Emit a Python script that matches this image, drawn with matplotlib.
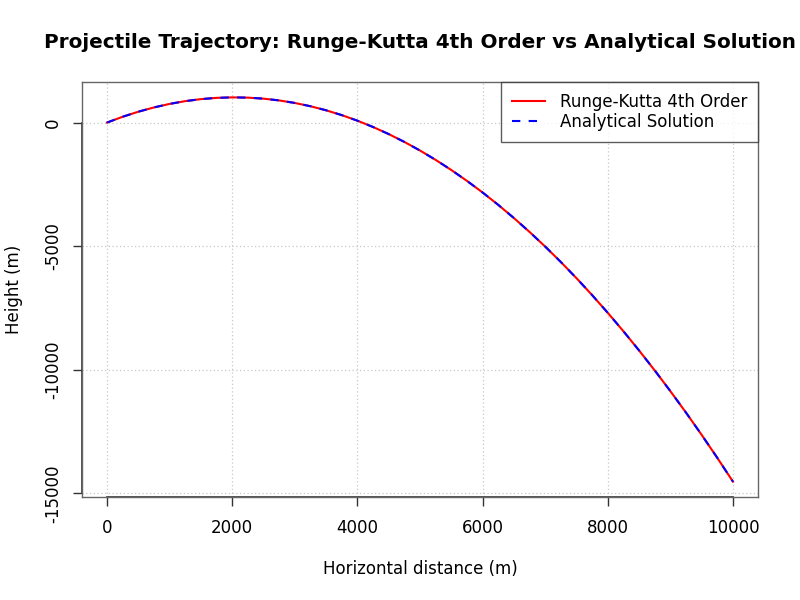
import matplotlib
matplotlib.use("Agg")
import matplotlib.pyplot as plt
from matplotlib.lines import Line2D

# values (metres)
distance = [0, 250, 500, 750, 1000, 1250, 1500, 1750, 2000, 2250, 2500,
            2750, 3000, 3250, 3500, 3750, 4000, 4250, 4500, 4750, 5000,
            5250, 5500, 5750, 6000, 6250, 6500, 6750, 7000, 7250, 7500,
            7750, 8000, 8250, 8500, 8750, 9000, 9250, 9500, 9750, 10000]
height_rk4 = [0, 235, 439, 612, 755, 867, 948, 999, 1019, 1008, 967,
              895, 793, 660, 496, 301, 76, -180, -466, -783, -1131,
              -1510, -1919, -2359, -2829, -3330, -3862, -4424, -5017, -5641, -6295,
              -6980, -7696, -8442, -9219, -10027, -10865, -11734, -12634, -13564, -14525]
height_exact = list(height_rk4)

xticks = [0, 2000, 4000, 6000, 8000, 10000]
yticks = [0, -5000, -10000, -15000]

fig = plt.figure(figsize=(8, 6), dpi=100)
ax = fig.add_axes([82 / 800, 103 / 600, 676 / 800, 415 / 600])

ax.plot(distance, height_rk4, color="red", lw=1.5, label="Runge-Kutta 4th Order")
ax.plot(distance, height_exact, color="blue", lw=1.5, dashes=(4, 4),
        label="Analytical Solution")

# R style 4% padding around the data
xr = max(distance) - min(distance)
ymin = min(height_rk4 + height_exact)
ymax = max(height_rk4 + height_exact)
yr = ymax - ymin
ax.set_xlim(min(distance) - 0.04 * xr, max(distance) + 0.04 * xr)
ax.set_ylim(ymin - 0.04 * yr, ymax + 0.04 * yr)

ax.set_xticks(xticks)
ax.set_yticks(yticks)
ax.set_xticklabels([str(v) for v in xticks])
ax.set_yticklabels([str(v) for v in yticks], rotation=90, va="center")
ax.tick_params(axis="both", direction="out", length=6.5, width=1,
               labelsize=12, color="#333333")
ax.tick_params(axis="x", pad=9)
ax.tick_params(axis="y", pad=8)

ax.grid(True, color="#c8c8c8", linestyle=(0, (1, 2)), lw=0.9)
for s in ax.spines.values():
    s.set_color("#666666")
    s.set_linewidth(1)

# axis lines spanning the ticks only, like base R
ax.plot([xticks[0], xticks[-1]], [ax.get_ylim()[0]] * 2, color="#333333",
        lw=1.2, clip_on=False)
ax.plot([ax.get_xlim()[0]] * 2, [yticks[-1], yticks[0]], color="#333333",
        lw=1.2, clip_on=False)

ax.set_xlabel("Horizontal distance (m)", fontsize=12, labelpad=17)
ax.set_ylabel("Height (m)", fontsize=12, labelpad=15)

fig.text(420 / 800, 1 - 42 / 600,
         "Projectile Trajectory: Runge-Kutta 4th Order vs Analytical Solution",
         ha="center", va="center", fontsize=14.4, fontweight="bold")

handles = [Line2D([], [], color="red", lw=1.5),
           Line2D([], [], color="blue", lw=1.5, dashes=(4, 4))]
leg = ax.legend(handles, ["Runge-Kutta 4th Order", "Analytical Solution"],
                loc="upper right", fontsize=12, frameon=True, fancybox=False,
                borderaxespad=0, handlelength=1.95, handletextpad=0.9,
                borderpad=0.65, labelspacing=0.12)
leg.get_frame().set_edgecolor("#333333")
leg.get_frame().set_linewidth(1)

fig.savefig("out.png", dpi=100)
